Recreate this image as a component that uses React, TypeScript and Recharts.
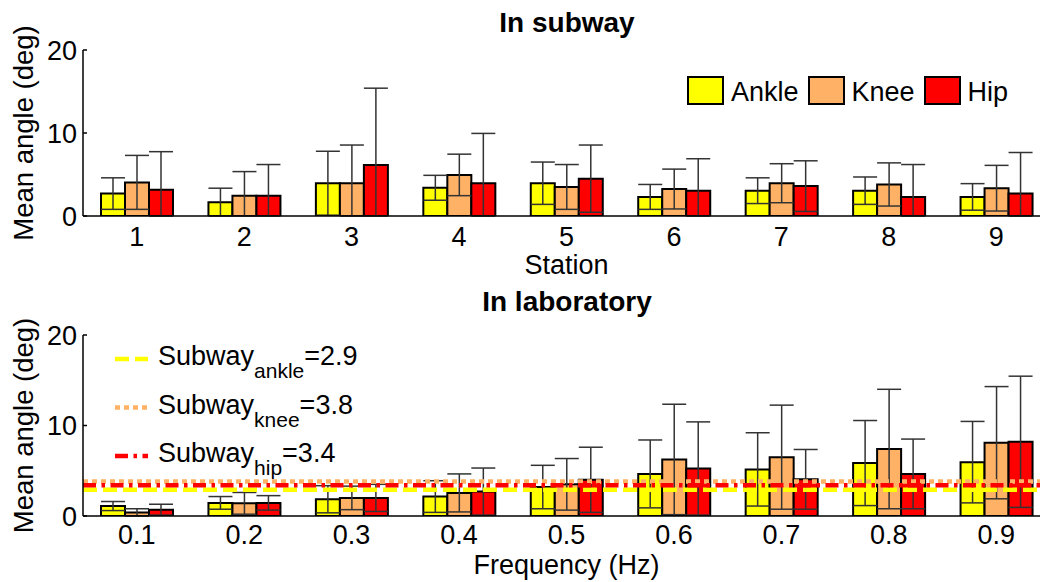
import React from "react";
import {
  BarChart,
  Bar,
  XAxis,
  YAxis,
  ErrorBar,
  Legend,
  ReferenceLine,
} from "recharts";

// top panel: subway, per station
const stations = ["1", "2", "3", "4", "5", "6", "7", "8", "9"];
const subwayAnkle = [2.7, 1.65, 3.95, 3.4, 3.95, 2.3, 3.05, 3.05, 2.3];
const subwayAnkleSd = [1.9, 1.7, 3.85, 1.5, 2.55, 1.5, 1.55, 1.65, 1.6];
const subwayKnee = [4.05, 2.45, 3.95, 4.95, 3.5, 3.25, 3.95, 3.8, 3.35];
const subwayKneeSd = [3.25, 2.9, 4.6, 2.5, 2.7, 2.4, 2.35, 2.6, 2.75];
const subwayHip = [3.15, 2.45, 6.15, 3.95, 4.5, 3.05, 3.6, 2.3, 2.7];
const subwayHipSd = [4.6, 3.75, 9.25, 6.0, 4.05, 3.85, 3.05, 3.9, 4.95];

// bottom panel: laboratory, per frequency
const frequencies = ["0.1", "0.2", "0.3", "0.4", "0.5", "0.6", "0.7", "0.8", "0.9"];
const labAnkle = [1.1, 1.45, 1.85, 2.15, 3.2, 4.65, 5.15, 5.85, 5.95];
const labAnkleSd = [0.5, 0.7, 1.5, 1.75, 2.4, 3.75, 4.05, 4.7, 4.5];
const labKnee = [0.4, 1.4, 2.0, 2.55, 3.5, 6.25, 6.5, 7.4, 8.1];
const labKneeSd = [0.4, 1.2, 1.3, 2.1, 2.85, 6.1, 5.75, 6.6, 6.2];
const labHip = [0.7, 1.45, 2.0, 2.7, 4.0, 5.25, 4.05, 4.65, 8.2];
const labHipSd = [0.6, 0.8, 1.5, 2.6, 3.6, 5.15, 3.3, 3.85, 7.25];

// subway averages shown as reference lines
const refJoints = ["ankle", "knee", "hip"];
const refValues = [2.9, 3.8, 3.4];

const jointNames = ["Ankle", "Knee", "Hip"];
const yTicks = [0, 10, 20];

const FONT = '"Liberation Sans", Arial, Helvetica, sans-serif';
const YELLOW = "#FFFF00";
const ORANGE = "#FFB266";
const RED = "#FF0000";
const jointColors = [YELLOW, ORANGE, RED];
const refDash = ["14 6", "5 4", "13 5.5 3.5 5.5"];

function buildRows(labels, ankle, ankleSd, knee, kneeSd, hip, hipSd) {
  // lower error is clipped at zero, like the original plot
  return labels.map((label, i) => ({
    label,
    ankle: ankle[i],
    ankleErr: [Math.min(ankleSd[i], ankle[i]), ankleSd[i]],
    knee: knee[i],
    kneeErr: [Math.min(kneeSd[i], knee[i]), kneeSd[i]],
    hip: hip[i],
    hipErr: [Math.min(hipSd[i], hip[i]), hipSd[i]],
  }));
}

const subwayRows = buildRows(
  stations,
  subwayAnkle,
  subwayAnkleSd,
  subwayKnee,
  subwayKneeSd,
  subwayHip,
  subwayHipSd
);
const labRows = buildRows(
  frequencies,
  labAnkle,
  labAnkleSd,
  labKnee,
  labKneeSd,
  labHip,
  labHipSd
);

const tickStyle = { fontSize: 27, fill: "#000", fontFamily: FONT };
const labelStyle = { fontSize: 27, fill: "#000", fontFamily: FONT };

function BarsLegend() {
  return (
    <div style={{ display: "flex", alignItems: "center", fontFamily: FONT }}>
      {jointNames.map((name, i) => (
        <div key={name} style={{ display: "flex", alignItems: "center", marginRight: 9 }}>
          <div
            style={{
              width: 33,
              height: 25,
              background: jointColors[i],
              border: "2px solid #000",
              marginRight: 7,
            }}
          />
          <span style={{ fontSize: 27, lineHeight: "28px", paddingTop: 4, color: "#000" }}>
            {name}
          </span>
        </div>
      ))}
    </div>
  );
}

function RefLegend() {
  return (
    <svg width={300} height={150} style={{ fontFamily: FONT }}>
      {refJoints.map((j, i) => {
        const y = 19 + i * 48.5;
        return (
          <g key={j}>
            <line
              x1={5}
              x2={38}
              y1={y}
              y2={y}
              stroke={jointColors[i]}
              strokeWidth={4.5}
              strokeDasharray={refDash[i]}
            />
            <text x={48} y={y + 6} fontSize={27} fill="#000">
              Subway
              <tspan fontSize={21} dy={13}>
                {j}
              </tspan>
              <tspan dy={-13}>{"=" + refValues[i]}</tspan>
            </text>
          </g>
        );
      })}
    </svg>
  );
}

function Panel({ rows, xLabel, height, top, xHeight, tickGap, labelOffset, legend, refs }) {
  return (
    <BarChart
      width={1060}
      height={height}
      data={rows}
      barGap={0}
      margin={{ top, right: 10, bottom: 0, left: 0 }}
    >
      <XAxis
        dataKey="label"
        interval={0}
        height={xHeight}
        tickLine={false}
        tickSize={0}
        tickMargin={tickGap}
        axisLine={{ stroke: "#000", strokeWidth: 1.5 }}
        tick={tickStyle}
        label={{
          value: xLabel,
          position: "insideBottom",
          offset: labelOffset,
          style: labelStyle,
        }}
      />
      <YAxis
        width={83}
        domain={[0, 20]}
        ticks={yTicks}
        allowDataOverflow
        tickSize={-4}
        tickMargin={10}
        axisLine={{ stroke: "#000", strokeWidth: 1.5 }}
        tickLine={{ stroke: "#000", strokeWidth: 1.5 }}
        tick={tickStyle}
        label={{
          value: "Mean angle (deg)",
          angle: -90,
          position: "insideLeft",
          offset: 23,
          style: { ...labelStyle, fontSize: 27.5, textAnchor: "middle" },
        }}
      />
      {legend}
      <Bar dataKey="ankle" name="Ankle" fill={YELLOW} stroke="#000" strokeWidth={2} barSize={24} isAnimationActive={false}>
        <ErrorBar dataKey="ankleErr" direction="y" width={12} stroke="#333" strokeWidth={1.5} />
      </Bar>
      <Bar dataKey="knee" name="Knee" fill={ORANGE} stroke="#000" strokeWidth={2} barSize={24} isAnimationActive={false}>
        <ErrorBar dataKey="kneeErr" direction="y" width={12} stroke="#333" strokeWidth={1.5} />
      </Bar>
      <Bar dataKey="hip" name="Hip" fill={RED} stroke="#000" strokeWidth={2} barSize={24} isAnimationActive={false}>
        <ErrorBar dataKey="hipErr" direction="y" width={12} stroke="#333" strokeWidth={1.5} />
      </Bar>
      {refs &&
        refValues.map((v, i) => (
          <ReferenceLine
            key={refJoints[i]}
            y={v}
            stroke={jointColors[i]}
            strokeWidth={4.5}
            strokeDasharray={refDash[i]}
          />
        ))}
    </BarChart>
  );
}

export default function App() {
  return (
    <div
      style={{
        position: "absolute",
        left: 0,
        top: 0,
        width: 1040,
        height: 582,
        overflow: "hidden",
        background: "#fff",
        fontFamily: FONT,
      }}
    >
      <svg width={1040} height={582} style={{ position: "absolute", left: 0, top: 0 }}>
        <text x={567} y={32} textAnchor="middle" fontSize={28} fontWeight="bold" fontFamily={FONT}>
          In subway
        </text>
        <text x={567} y={311} textAnchor="middle" fontSize={28} fontWeight="bold" fontFamily={FONT}>
          In laboratory
        </text>
      </svg>
      <div style={{ position: "absolute", left: 0, top: 0 }}>
        <Panel
          rows={subwayRows}
          xLabel="Station"
          height={290}
          top={50}
          xHeight={74}
          tickGap={11}
          labelOffset={16}
          refs={false}
          legend={
            <Legend
              layout="horizontal"
              verticalAlign="middle"
              align="center"
              wrapperStyle={{ left: 687, top: 74, width: "auto" }}
              content={() => <BarsLegend />}
            />
          }
        />
      </div>
      <div style={{ position: "absolute", left: 0, top: 290 }}>
        <Panel
          rows={labRows}
          xLabel="Frequency (Hz)"
          height={292}
          top={45}
          xHeight={66}
          tickGap={9}
          labelOffset={8}
          refs={true}
          legend={
            <Legend
              layout="horizontal"
              verticalAlign="middle"
              align="center"
              wrapperStyle={{ left: 110, top: 50, width: "auto" }}
              content={() => <RefLegend />}
            />
          }
        />
      </div>
    </div>
  );
}
